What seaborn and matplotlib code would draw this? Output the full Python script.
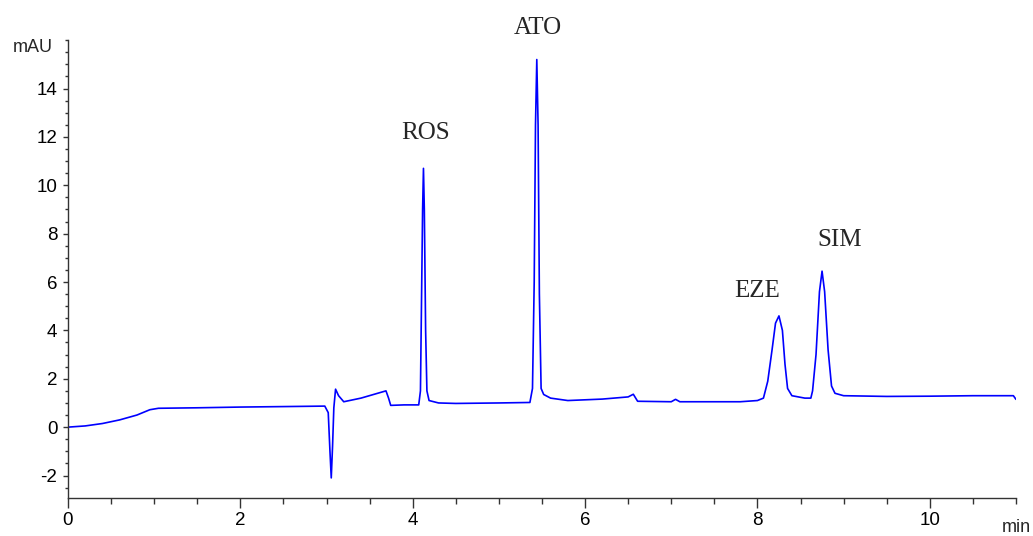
import pandas as pd
import seaborn as sns
import matplotlib.pyplot as plt
from matplotlib.ticker import MultipleLocator, FixedLocator

# chromatogram trace (time in min, signal in mAU)
time_min = [0.0, 0.2, 0.4, 0.6, 0.8, 0.95, 1.05, 1.5, 2.0, 2.5, 2.98,
            3.02, 3.04, 3.055, 3.07, 3.085, 3.105, 3.14, 3.2, 3.4, 3.69, 3.72, 3.745, 3.9, 4.07,
            4.09, 4.10, 4.115, 4.125, 4.135, 4.15, 4.165, 4.19, 4.3, 4.5, 5.0, 5.36,
            5.39, 5.41, 5.425, 5.44, 5.455, 5.47, 5.49, 5.52, 5.6, 5.8, 6.2, 6.5, 6.56, 6.61,
            7.0, 7.05, 7.1, 7.8, 8.0,
            8.07, 8.12, 8.17, 8.21, 8.25, 8.29, 8.32, 8.35, 8.4, 8.55, 8.62,
            8.64, 8.68, 8.72, 8.75, 8.78, 8.82, 8.86, 8.9, 9.0, 9.5, 10.0, 10.5, 10.97, 11.0]
signal_mau = [0.0, 0.05, 0.15, 0.3, 0.5, 0.72, 0.78, 0.8, 0.83, 0.85, 0.87,
              0.6, -1.0, -2.1, -0.8, 0.8, 1.57, 1.3, 1.05, 1.2, 1.5, 1.2, 0.9, 0.92, 0.92,
              1.5, 4.5, 9.0, 10.7, 9.0, 4.0, 1.5, 1.1, 1.0, 0.98, 1.0, 1.02,
              1.6, 6.0, 12.5, 15.2, 12.5, 5.5, 1.6, 1.35, 1.2, 1.1, 1.16, 1.25, 1.36, 1.07,
              1.05, 1.15, 1.05, 1.05, 1.1,
              1.2, 1.9, 3.2, 4.3, 4.6, 4.0, 2.6, 1.6, 1.3, 1.2, 1.2,
              1.5, 3.0, 5.6, 6.45, 5.6, 3.2, 1.7, 1.4, 1.3, 1.27, 1.28, 1.3, 1.3, 1.15]

peak_names = ['ROS', 'ATO', 'EZE', 'SIM']
label_x = [4.15, 5.45, 8.0, 8.95]
label_y = [12.15, 16.5, 5.62, 7.73]
y_ticks = [-2, 0, 2, 4, 6, 8, 10, 12, 14]

df = pd.DataFrame({'t': time_min, 'y': signal_mau})

sns.set_style('ticks')
plt.rcParams['font.family'] = ['Liberation Sans', 'DejaVu Sans']
plt.rcParams['axes.unicode_minus'] = False

fig = plt.figure(figsize=(10.33, 5.36), dpi=100)
ax = fig.add_axes([0.0658, 0.0709, 0.9177, 0.8541])
sns.lineplot(data=df, x='t', y='y', color='#0000ff', linewidth=1.2, ax=ax)

for name, lx, ly in zip(peak_names, label_x, label_y):
    ax.text(lx, ly, name, ha='center', va='center', fontsize=18,
            family='Liberation Serif', clip_on=False)

ax.set_xlim(0, 11)
ax.set_ylim(-2.93, 16)
ax.xaxis.set_major_locator(MultipleLocator(2))
ax.xaxis.set_minor_locator(MultipleLocator(0.5))
ax.yaxis.set_major_locator(FixedLocator(y_ticks))
ax.yaxis.set_minor_locator(MultipleLocator(0.5))
ax.set_xlabel('')
ax.set_ylabel('')
sns.despine(ax=ax)
for s in ['left', 'bottom']:
    ax.spines[s].set_color('#333333')
    ax.spines[s].set_linewidth(1.0)
ax.tick_params(axis='x', which='major', length=7.2, width=1, direction='out', labelsize=13.5, pad=3, color='#333333', labelcolor='black')
ax.tick_params(axis='x', which='minor', length=4.3, width=1, direction='out', color='#333333')
ax.tick_params(axis='y', which='major', length=3.6, width=1, direction='out', labelsize=13.5, pad=4, color='#333333', labelcolor='black')
ax.tick_params(axis='y', which='minor', length=2.2, width=1, direction='out', color='#333333')

fig.text(53 / 1033, 1 - 47 / 536, 'mAU', ha='right', va='center', fontsize=13)
fig.text(1016 / 1033, 1 - 527 / 536, 'min', ha='center', va='center', fontsize=13)

fig.savefig('out.png', dpi=100)
